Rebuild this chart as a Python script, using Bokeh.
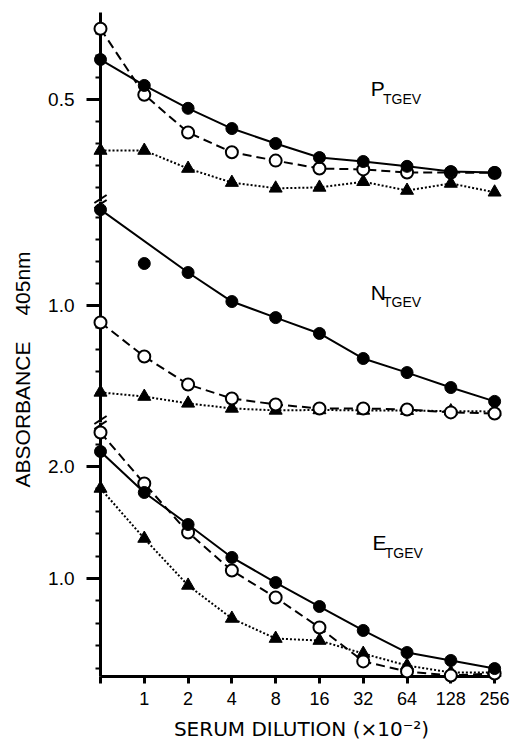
import math
from bokeh.plotting import figure
from bokeh.layouts import column, row
from bokeh.models import FixedTicker, Range1d
from bokeh.core.properties import value
from bokeh.embed import file_html
from bokeh.resources import INLINE

# ---------------- data ----------------
dilution_labels = ["", "1", "2", "4", "8", "16", "32", "64", "128", "256"]
positions = list(range(len(dilution_labels)))

# P_TGEV panel
p_filled = [0.591, 0.532, 0.480, 0.434, 0.400, 0.368, 0.359, 0.348, 0.336, 0.334]
p_open = [0.661, 0.511, 0.425, 0.380, 0.361, 0.343, 0.341, 0.334, 0.334, 0.333]
p_tri = [0.384, 0.384, 0.343, 0.311, 0.298, 0.300, 0.313, 0.293, 0.309, 0.289]

# N_TGEV panel
n_filled = [1.436, 1.191, 1.150, 1.018, 0.945, 0.873, 0.759, 0.695, 0.627, 0.564]
n_open = [0.923, 0.768, 0.641, 0.577, 0.550, 0.532, 0.532, 0.527, 0.514, 0.509]
n_tri = [0.605, 0.586, 0.555, 0.532, 0.523, 0.525, 0.523, 0.522, 0.520, 0.518]
n_filled_off_curve = [1]   # point not joined by the drawn curve

# E_TGEV panel
e_filled = [2.134, 1.768, 1.482, 1.188, 0.964, 0.750, 0.536, 0.339, 0.268, 0.196]
e_open = [2.304, 1.848, 1.411, 1.071, 0.830, 0.562, 0.260, 0.170, 0.134, 0.152]
e_tri = [1.804, 1.357, 0.938, 0.643, 0.464, 0.446, 0.330, 0.223, 0.161, 0.161]

# axis ticks
p_major, p_minor = [0.5], [0.30, 0.35, 0.40, 0.45, 0.55, 0.60, 0.65]
n_major, n_minor = [1.0], [0.6, 0.7, 0.8, 0.9, 1.1, 1.2, 1.3, 1.4]
e_major, e_minor = [1.0, 2.0], [0.2, 0.4, 0.6, 0.8, 1.2, 1.4, 1.6, 1.8, 2.2]

y_title_parts = ["ABSORBANCE", "405nm"]
x_title = "SERUM DILUTION (\u00d710\u207b\u00b2)"

# ---------------- style ----------------
FONT = "Liberation Sans"
TITLE_W = 40
W = 519 - TITLE_W
XR = Range1d(0, 9.18)
BORDER_L, BORDER_R = 60, 17


def make_fig(height, yr, top, bottom, show_x):
    p = figure(width=W, height=height, x_range=XR, y_range=Range1d(*yr),
               output_backend="svg", toolbar_location=None,
               x_axis_location="below" if show_x else None,
               min_border=0)
    p.min_border_left = BORDER_L
    p.min_border_right = BORDER_R
    p.min_border_top = top
    p.min_border_bottom = bottom
    p.outline_line_color = None
    p.grid.visible = False
    p.background_fill_color = "white"
    p.border_fill_color = "white"
    ax = p.yaxis[0]
    ax.axis_line_width = 3
    ax.major_tick_line_width = 3
    ax.minor_tick_line_width = 2
    ax.major_tick_out = 14
    ax.major_tick_in = 0
    ax.minor_tick_out = 5
    ax.minor_tick_in = 0
    ax.major_label_text_font = FONT
    ax.major_label_text_font_size = "19px"
    ax.major_label_text_color = "black"
    ax.major_label_standoff = 12
    return p


def draw_series(p, filled, opened, tri, skip_filled=()):
    fx = [x for x in positions if x not in skip_filled]
    fy = [filled[x] for x in fx]
    p.line(positions, tri, line_color="black", line_width=2, line_dash="2 2")
    p.line(positions, opened, line_color="black", line_width=2, line_dash="9 5")
    p.line(fx, fy, line_color="black", line_width=2)
    p.scatter(positions, tri, marker="triangle", size=13, fill_color="black",
              line_color="black", level="overlay")
    p.scatter(positions, opened, marker="circle", size=12, fill_color="white",
              line_color="black", line_width=2, level="overlay")
    p.scatter(positions, filled, marker="circle", size=12, fill_color="black",
              line_color="black", level="overlay")


def panel_label(p, x, y_main, y_sub, main, sub):
    p.text(x=[x], y=[y_main], text=[main], text_font=value(FONT), text_font_size="21px",
           text_baseline="alphabetic", text_align="left", text_color="black")
    p.text(x=[x + 0.28], y=[y_sub], text=[sub], text_font=value(FONT), text_font_size="14px",
           text_baseline="alphabetic", text_align="left", text_color="black")


def break_marks(p, frame_h, at_top):
    yr = p.y_range
    per_px = (yr.end - yr.start) / frame_h
    b = yr.end if at_top else yr.start
    d = 4 * per_px
    dx = 0.14
    for off in (-2.5, 2.5):
        o = off * per_px
        p.segment(x0=[-dx], y0=[b + o - d], x1=[dx], y1=[b + o + d],
                  line_color="black", line_width=2, level="overlay")


# ---------------- figures ----------------
p1 = make_fig(201, (0.268, 0.698), 12, 0, False)
p2 = make_fig(221, (0.468, 1.473), 0, 0, False)
p3 = make_fig(324, (0.125, 2.393), 0, 70, True)

p1.yaxis.ticker = FixedTicker(ticks=p_major, minor_ticks=p_minor)
p2.yaxis.ticker = FixedTicker(ticks=n_major, minor_ticks=n_minor)
p3.yaxis.ticker = FixedTicker(ticks=e_major, minor_ticks=e_minor)
p1.yaxis.major_label_overrides = {0.5: "0.5"}
p2.yaxis.major_label_overrides = {1.0: "1.0"}
p3.yaxis.major_label_overrides = {1.0: "1.0", 2.0: "2.0"}

draw_series(p1, p_filled, p_open, p_tri)
draw_series(p2, n_filled, n_open, n_tri, skip_filled=n_filled_off_curve)
draw_series(p3, e_filled, e_open, e_tri)

panel_label(p1, 6.17, 0.525, 0.502, "P", "TGEV")
panel_label(p2, 6.17, 1.059, 1.014, "N", "TGEV")
panel_label(p3, 6.21, 1.321, 1.232, "E", "TGEV")

break_marks(p1, 189, False)
break_marks(p2, 221, True)
break_marks(p2, 221, False)
break_marks(p3, 254, True)

xa = p3.xaxis[0]
xa.ticker = FixedTicker(ticks=positions)
xa.major_label_overrides = {i: lab for i, lab in zip(positions, dilution_labels)}
xa.bounds = (0, 9)
xa.axis_line_width = 3
xa.major_tick_line_width = 3
xa.major_tick_out = 7
xa.major_tick_in = 0
xa.minor_tick_line_color = None
xa.major_label_text_font = FONT
xa.major_label_text_font_size = "18px"
xa.major_label_text_color = "black"
xa.major_label_standoff = 8
xa.axis_label = x_title
xa.axis_label_text_font = "DejaVu Sans"
xa.axis_label_text_font_style = "normal"
xa.axis_label_text_font_size = "20px"
xa.axis_label_text_color = "black"
xa.axis_label_standoff = 9

# y-axis title in its own narrow strip (pixel-like coordinates, top = 0)
tf = figure(width=TITLE_W, height=746, x_range=Range1d(0, TITLE_W), y_range=Range1d(746, 0),
            output_backend="svg", toolbar_location=None, x_axis_location=None,
            y_axis_location=None, min_border=0)
tf.outline_line_color = None
tf.grid.visible = False
tf.text(x=[22, 22], y=[414, 283], text=y_title_parts, angle=math.pi / 2,
        text_align="center", text_baseline="middle", text_font=value(FONT),
        text_font_size="21px", text_color="black")

layout = row(tf, column(p1, p2, p3))
open("out.html", "w").write(file_html(layout, INLINE))
